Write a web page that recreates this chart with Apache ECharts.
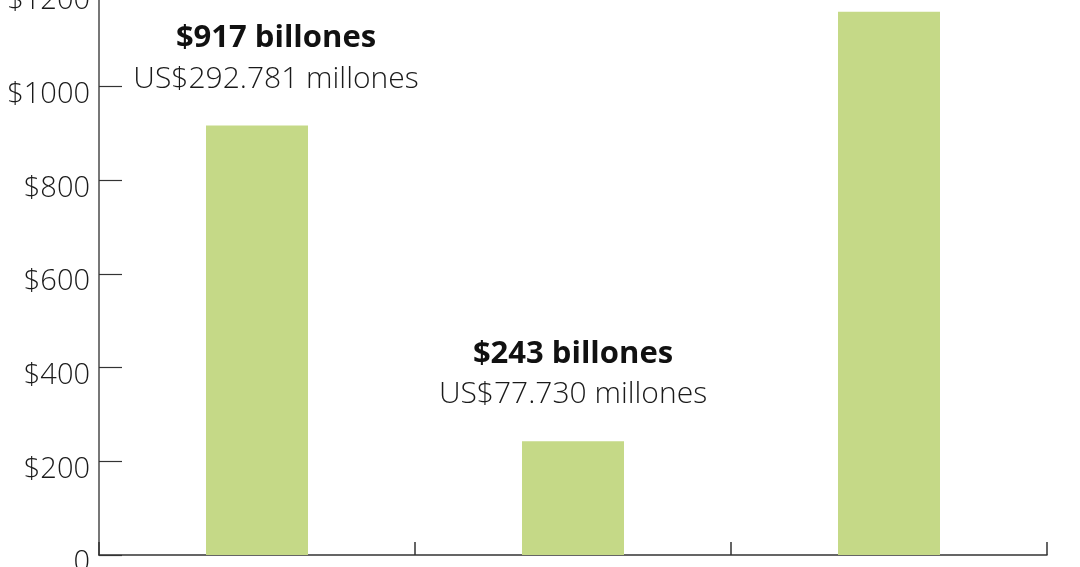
<!DOCTYPE html>
<html>
<head>
    <meta charset="utf-8">
    <title>Billones</title>
    <script src="https://cdn.jsdelivr.net/npm/echarts@6/dist/echarts.min.js"></script>
    <style>
        html, body { margin: 0; padding: 0; background: #fff; }
    </style>
</head>
<body>
    <div id="main" style="width:1080px;height:567px;"></div>
    <script type="text/javascript">
        // data
        var categories = ['A', 'B', 'C'];
        var values = [917, 243, 1160];
        var boldLabels = ['$917 billones', '$243 billones', ''];
        var subLabels = ['US$292.781 millones', 'US$77.730 millones', ''];
        var labelShift = [19, 0, 0];   // first label sits a little to the right
        var yTicks = [0, 200, 400, 600, 800, 1000, 1200];

        var font = '"Open Sans", "Noto Sans", sans-serif';
        var myChart = echarts.init(document.getElementById('main'));

        var barData = values.map(function (v, i) {
            var item = { value: v };
            if (boldLabels[i]) {
                item.label = {
                    show: true,
                    position: 'top',
                    distance: 26,
                    offset: [labelShift[i], 0],
                    formatter: '{b|' + boldLabels[i] + '}\n{r|' + subLabels[i] + '}',
                    rich: {
                        b: { fontFamily: font, fontSize: 31, fontWeight: 'bold', color: '#111', lineHeight: 41 },
                        r: { fontFamily: font, fontSize: 30, fontWeight: 300, color: '#1a1a1a', lineHeight: 41 }
                    }
                };
            }
            return item;
        });

        myChart.setOption({
            animation: false,
            grid: { left: 99, right: 33, top: -7, bottom: 12, containLabel: false, outerBoundsMode: 'none' },
            xAxis: {
                type: 'category',
                data: categories,
                axisLine: { lineStyle: { color: '#333', width: 1.5 } },
                axisTick: { show: true, inside: true, length: 13, lineStyle: { color: '#333', width: 1.5 } },
                axisLabel: { show: false }
            },
            yAxis: {
                type: 'value',
                min: yTicks[0],
                max: yTicks[yTicks.length - 1],
                interval: 200,
                splitLine: { show: false },
                axisLine: { show: true, lineStyle: { color: '#777', width: 2 } },
                axisTick: { show: true, inside: true, length: 23, lineStyle: { color: '#333', width: 1.2 } },
                axisLabel: {
                    margin: 9,
                    verticalAlign: 'top',
                    lineHeight: 16,
                    fontFamily: font,
                    fontSize: 29,
                    fontWeight: 300,
                    color: '#1a1a1a',
                    formatter: function (v) { return v === 0 ? '0' : '$' + v; }
                }
            },
            series: [{
                type: 'bar',
                data: barData,
                barWidth: 102,
                itemStyle: { color: '#c5d987' }
            }]
        });
    </script>
</body>
</html>
